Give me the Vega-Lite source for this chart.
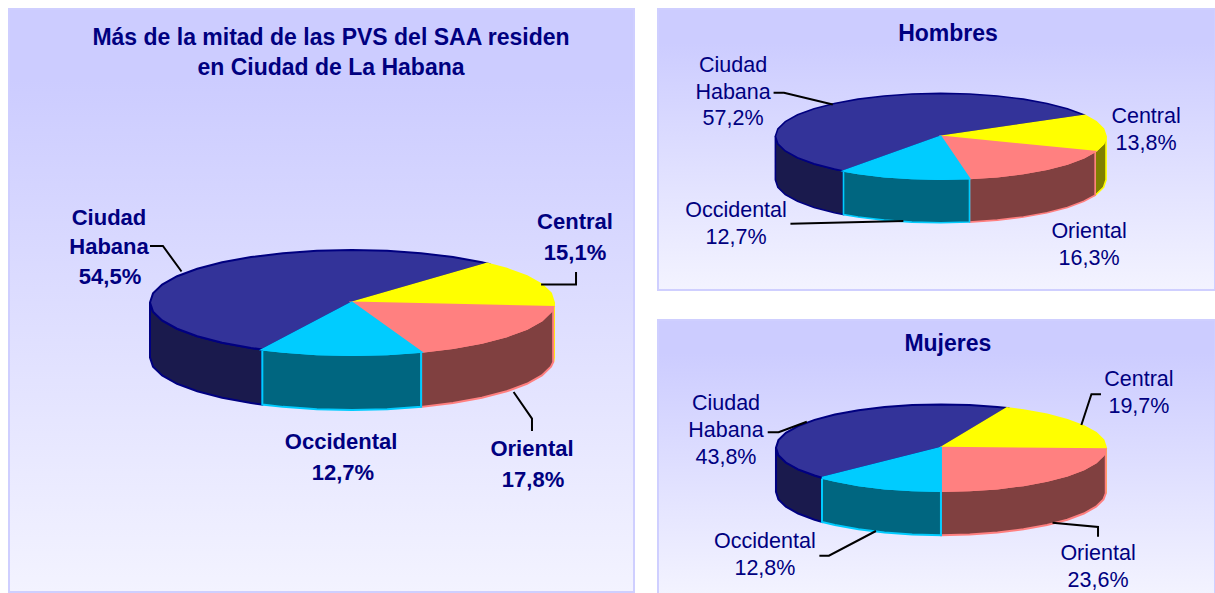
{"$schema":"https://vega.github.io/schema/vega-lite/v6.json","padding":{"left":8,"top":8,"right":0,"bottom":0},"background":"white","spacing":22,"config":{"concat":{"spacing":22},"view":{"stroke":"#CFCFFF","strokeWidth":2,"fill":{"gradient":"linear","x1":0,"y1":0,"x2":0,"y2":1,"stops":[{"offset":0,"color":"#CCCCFF"},{"offset":0.12,"color":"#CCCCFF"},{"offset":1,"color":"#F3F3FF"}]}}},
"hconcat":[
{"width":625,"height":583,"layer":[
{"data":{"values":[
{"parte":"Ciudad lado","x":-0.444,"y":-0.896},{"parte":"Ciudad lado","x":-0.5,"y":-0.866},{"parte":"Ciudad lado","x":-0.643,"y":-0.766},{"parte":"Ciudad lado","x":-0.766,"y":-0.643},{"parte":"Ciudad lado","x":-0.866,"y":-0.5},{"parte":"Ciudad lado","x":-0.94,"y":-0.342},{"parte":"Ciudad lado","x":-0.985,"y":-0.174},{"parte":"Ciudad lado","x":-1,"y":0},{"parte":"Ciudad lado","x":-1,"y":-1.048},{"parte":"Ciudad lado","x":-0.985,"y":-1.222},{"parte":"Ciudad lado","x":-0.94,"y":-1.39},{"parte":"Ciudad lado","x":-0.866,"y":-1.548},{"parte":"Ciudad lado","x":-0.766,"y":-1.691},{"parte":"Ciudad lado","x":-0.643,"y":-1.814},{"parte":"Ciudad lado","x":-0.5,"y":-1.914},{"parte":"Ciudad lado","x":-0.444,"y":-1.944},
{"parte":"Central lado","x":1,"y":0},{"parte":"Central lado","x":0.996,"y":-0.087},{"parte":"Central lado","x":0.996,"y":-1.135},{"parte":"Central lado","x":1,"y":-1.048},
{"parte":"Oriental lado","x":0.996,"y":-0.087},{"parte":"Oriental lado","x":0.985,"y":-0.174},{"parte":"Oriental lado","x":0.94,"y":-0.342},{"parte":"Oriental lado","x":0.866,"y":-0.5},{"parte":"Oriental lado","x":0.766,"y":-0.643},{"parte":"Oriental lado","x":0.643,"y":-0.766},{"parte":"Oriental lado","x":0.5,"y":-0.866},{"parte":"Oriental lado","x":0.342,"y":-0.94},{"parte":"Oriental lado","x":0.342,"y":-1.988},{"parte":"Oriental lado","x":0.5,"y":-1.914},{"parte":"Oriental lado","x":0.643,"y":-1.814},{"parte":"Oriental lado","x":0.766,"y":-1.691},{"parte":"Oriental lado","x":0.866,"y":-1.548},{"parte":"Oriental lado","x":0.94,"y":-1.39},{"parte":"Oriental lado","x":0.985,"y":-1.222},{"parte":"Oriental lado","x":0.996,"y":-1.135},
{"parte":"Occidental lado","x":0.342,"y":-0.94},{"parte":"Occidental lado","x":0.174,"y":-0.985},{"parte":"Occidental lado","x":0,"y":-1},{"parte":"Occidental lado","x":-0.174,"y":-0.985},{"parte":"Occidental lado","x":-0.342,"y":-0.94},{"parte":"Occidental lado","x":-0.444,"y":-0.896},{"parte":"Occidental lado","x":-0.444,"y":-1.944},{"parte":"Occidental lado","x":-0.342,"y":-1.988},{"parte":"Occidental lado","x":-0.174,"y":-2.033},{"parte":"Occidental lado","x":0,"y":-2.048},{"parte":"Occidental lado","x":0.174,"y":-2.033},{"parte":"Occidental lado","x":0.342,"y":-1.988},
{"parte":"Ciudad","x":0,"y":0},{"parte":"Ciudad","x":0.669,"y":0.743},{"parte":"Ciudad","x":0.643,"y":0.766},{"parte":"Ciudad","x":0.5,"y":0.866},{"parte":"Ciudad","x":0.342,"y":0.94},{"parte":"Ciudad","x":0.174,"y":0.985},{"parte":"Ciudad","x":0,"y":1},{"parte":"Ciudad","x":-0.174,"y":0.985},{"parte":"Ciudad","x":-0.342,"y":0.94},{"parte":"Ciudad","x":-0.5,"y":0.866},{"parte":"Ciudad","x":-0.643,"y":0.766},{"parte":"Ciudad","x":-0.766,"y":0.643},{"parte":"Ciudad","x":-0.866,"y":0.5},{"parte":"Ciudad","x":-0.94,"y":0.342},{"parte":"Ciudad","x":-0.985,"y":0.174},{"parte":"Ciudad","x":-1,"y":0},{"parte":"Ciudad","x":-0.985,"y":-0.174},{"parte":"Ciudad","x":-0.94,"y":-0.342},{"parte":"Ciudad","x":-0.866,"y":-0.5},{"parte":"Ciudad","x":-0.766,"y":-0.643},{"parte":"Ciudad","x":-0.643,"y":-0.766},{"parte":"Ciudad","x":-0.5,"y":-0.866},{"parte":"Ciudad","x":-0.444,"y":-0.896},
{"parte":"Central","x":0,"y":0},{"parte":"Central","x":0.669,"y":0.743},{"parte":"Central","x":0.766,"y":0.643},{"parte":"Central","x":0.866,"y":0.5},{"parte":"Central","x":0.94,"y":0.342},{"parte":"Central","x":0.985,"y":0.174},{"parte":"Central","x":1,"y":0},{"parte":"Central","x":0.996,"y":-0.087},
{"parte":"Oriental","x":0,"y":0},{"parte":"Oriental","x":0.996,"y":-0.087},{"parte":"Oriental","x":0.985,"y":-0.174},{"parte":"Oriental","x":0.94,"y":-0.342},{"parte":"Oriental","x":0.866,"y":-0.5},{"parte":"Oriental","x":0.766,"y":-0.643},{"parte":"Oriental","x":0.643,"y":-0.766},{"parte":"Oriental","x":0.5,"y":-0.866},{"parte":"Oriental","x":0.342,"y":-0.94},
{"parte":"Occidental","x":0,"y":0},{"parte":"Occidental","x":0.342,"y":-0.94},{"parte":"Occidental","x":0.174,"y":-0.985},{"parte":"Occidental","x":0,"y":-1},{"parte":"Occidental","x":-0.174,"y":-0.985},{"parte":"Occidental","x":-0.342,"y":-0.94},{"parte":"Occidental","x":-0.444,"y":-0.896}
]},
"mark":{"type":"line","filled":true,"interpolate":"linear-closed","strokeWidth":2},
"encoding":{"x":{"field":"x","type":"quantitative","axis":null,"scale":{"domain":[-1.698,1.396],"nice":false,"zero":false}},"y":{"field":"y","type":"quantitative","axis":null,"scale":{"domain":[-5.514,5.59],"nice":false,"zero":false}},"order":{"value":null},"detail":{"field":"parte"},
"fill":{"field":"parte","type":"nominal","legend":null,"scale":{"domain":["Ciudad","Central","Oriental","Occidental","Ciudad lado","Central lado","Oriental lado","Occidental lado"],"range":["#333399","#FFFF00","#FF8080","#00CCFF","#1A1A4D","#808000","#804040","#006680"]}},
"stroke":{"field":"parte","type":"nominal","legend":null,"scale":{"domain":["Ciudad","Central","Oriental","Occidental","Ciudad lado","Central lado","Oriental lado","Occidental lado"],"range":["#000080","#FFFF00","#FF8080","#00CCFF","#000080","#FFFF00","#FF8080","#00CCFF"]}}}},
{"data":{"values":[
{"guia":"Ciudad","x":-1.0,"y":1.076},{"guia":"Ciudad","x":-0.936,"y":1.076},{"guia":"Ciudad","x":-0.844,"y":0.59},
{"guia":"Central","x":0.936,"y":0.345},{"guia":"Central","x":1.109,"y":0.345},{"guia":"Central","x":1.109,"y":0.581},
{"guia":"Oriental","x":0.8,"y":-1.705},{"guia":"Oriental","x":0.891,"y":-2.213},{"guia":"Oriental","x":0.891,"y":-2.448}
]},"mark":{"type":"line","color":"black","strokeWidth":2},"encoding":{"x":{"field":"x","type":"quantitative"},"y":{"field":"y","type":"quantitative"},"order":{"value":null},"detail":{"field":"guia"}}},
{"data":{"values":[
{"t":"Ciudad","x":-1.203,"y":1.61},{"t":"Habana","x":-1.203,"y":1.057},{"t":"54,5%","x":-1.198,"y":0.486},
{"t":"Central","x":1.104,"y":1.533},{"t":"15,1%","x":1.104,"y":0.943},
{"t":"Occidental","x":-0.054,"y":-2.657},{"t":"12,7%","x":-0.045,"y":-3.248},
{"t":"Oriental","x":0.891,"y":-2.79},{"t":"17,8%","x":0.896,"y":-3.381}
]},"mark":{"type":"text","font":"Liberation Sans","fontWeight":"bold","fontSize":22,"color":"#000080","align":"center","baseline":"middle"},"encoding":{"x":{"field":"x","type":"quantitative"},"y":{"field":"y","type":"quantitative"},"text":{"field":"t"}}},
{"data":{"values":[
{"t":"Más de la mitad de las PVS del SAA residen","x":-0.104,"y":5.038},{"t":"en Ciudad de La Habana","x":-0.104,"y":4.467}
]},"mark":{"type":"text","font":"Liberation Sans","fontWeight":"bold","fontSize":23,"color":"#000080","align":"center","baseline":"middle"},"encoding":{"x":{"field":"x","type":"quantitative"},"y":{"field":"y","type":"quantitative"},"text":{"field":"t"}}}
]},
{"spacing":28,"vconcat":[
{"width":557,"height":281,"layer":[
{"data":{"values":[
{"parte":"Ciudad lado","x":-0.588,"y":-0.809},{"parte":"Ciudad lado","x":-0.643,"y":-0.766},{"parte":"Ciudad lado","x":-0.766,"y":-0.643},{"parte":"Ciudad lado","x":-0.866,"y":-0.5},{"parte":"Ciudad lado","x":-0.94,"y":-0.342},{"parte":"Ciudad lado","x":-0.985,"y":-0.174},{"parte":"Ciudad lado","x":-1,"y":0},{"parte":"Ciudad lado","x":-1,"y":-1.015},{"parte":"Ciudad lado","x":-0.985,"y":-1.189},{"parte":"Ciudad lado","x":-0.94,"y":-1.357},{"parte":"Ciudad lado","x":-0.866,"y":-1.515},{"parte":"Ciudad lado","x":-0.766,"y":-1.658},{"parte":"Ciudad lado","x":-0.643,"y":-1.781},{"parte":"Ciudad lado","x":-0.588,"y":-1.824},
{"parte":"Central lado","x":1,"y":0},{"parte":"Central lado","x":0.985,"y":-0.174},{"parte":"Central lado","x":0.94,"y":-0.342},{"parte":"Central lado","x":0.934,"y":-0.358},{"parte":"Central lado","x":0.934,"y":-1.373},{"parte":"Central lado","x":0.94,"y":-1.357},{"parte":"Central lado","x":0.985,"y":-1.189},{"parte":"Central lado","x":1,"y":-1.015},
{"parte":"Oriental lado","x":0.934,"y":-0.358},{"parte":"Oriental lado","x":0.866,"y":-0.5},{"parte":"Oriental lado","x":0.766,"y":-0.643},{"parte":"Oriental lado","x":0.643,"y":-0.766},{"parte":"Oriental lado","x":0.5,"y":-0.866},{"parte":"Oriental lado","x":0.342,"y":-0.94},{"parte":"Oriental lado","x":0.174,"y":-0.985},{"parte":"Oriental lado","x":0.174,"y":-2},{"parte":"Oriental lado","x":0.342,"y":-1.955},{"parte":"Oriental lado","x":0.5,"y":-1.881},{"parte":"Oriental lado","x":0.643,"y":-1.781},{"parte":"Oriental lado","x":0.766,"y":-1.658},{"parte":"Oriental lado","x":0.866,"y":-1.515},{"parte":"Oriental lado","x":0.934,"y":-1.373},
{"parte":"Occidental lado","x":0.174,"y":-0.985},{"parte":"Occidental lado","x":0,"y":-1},{"parte":"Occidental lado","x":-0.174,"y":-0.985},{"parte":"Occidental lado","x":-0.342,"y":-0.94},{"parte":"Occidental lado","x":-0.5,"y":-0.866},{"parte":"Occidental lado","x":-0.588,"y":-0.809},{"parte":"Occidental lado","x":-0.588,"y":-1.824},{"parte":"Occidental lado","x":-0.5,"y":-1.881},{"parte":"Occidental lado","x":-0.342,"y":-1.955},{"parte":"Occidental lado","x":-0.174,"y":-2},{"parte":"Occidental lado","x":0,"y":-2.015},{"parte":"Occidental lado","x":0.174,"y":-2},
{"parte":"Ciudad","x":0,"y":0},{"parte":"Ciudad","x":0.873,"y":0.488},{"parte":"Ciudad","x":0.766,"y":0.643},{"parte":"Ciudad","x":0.643,"y":0.766},{"parte":"Ciudad","x":0.5,"y":0.866},{"parte":"Ciudad","x":0.342,"y":0.94},{"parte":"Ciudad","x":0.174,"y":0.985},{"parte":"Ciudad","x":0,"y":1},{"parte":"Ciudad","x":-0.174,"y":0.985},{"parte":"Ciudad","x":-0.342,"y":0.94},{"parte":"Ciudad","x":-0.5,"y":0.866},{"parte":"Ciudad","x":-0.643,"y":0.766},{"parte":"Ciudad","x":-0.766,"y":0.643},{"parte":"Ciudad","x":-0.866,"y":0.5},{"parte":"Ciudad","x":-0.94,"y":0.342},{"parte":"Ciudad","x":-0.985,"y":0.174},{"parte":"Ciudad","x":-1,"y":0},{"parte":"Ciudad","x":-0.985,"y":-0.174},{"parte":"Ciudad","x":-0.94,"y":-0.342},{"parte":"Ciudad","x":-0.866,"y":-0.5},{"parte":"Ciudad","x":-0.766,"y":-0.643},{"parte":"Ciudad","x":-0.643,"y":-0.766},{"parte":"Ciudad","x":-0.588,"y":-0.809},
{"parte":"Central","x":0,"y":0},{"parte":"Central","x":0.873,"y":0.488},{"parte":"Central","x":0.94,"y":0.342},{"parte":"Central","x":0.985,"y":0.174},{"parte":"Central","x":1,"y":0},{"parte":"Central","x":0.985,"y":-0.174},{"parte":"Central","x":0.94,"y":-0.342},{"parte":"Central","x":0.934,"y":-0.358},
{"parte":"Oriental","x":0,"y":0},{"parte":"Oriental","x":0.934,"y":-0.358},{"parte":"Oriental","x":0.866,"y":-0.5},{"parte":"Oriental","x":0.766,"y":-0.643},{"parte":"Oriental","x":0.643,"y":-0.766},{"parte":"Oriental","x":0.5,"y":-0.866},{"parte":"Oriental","x":0.342,"y":-0.94},{"parte":"Oriental","x":0.174,"y":-0.985},
{"parte":"Occidental","x":0,"y":0},{"parte":"Occidental","x":0.174,"y":-0.985},{"parte":"Occidental","x":0,"y":-1},{"parte":"Occidental","x":-0.174,"y":-0.985},{"parte":"Occidental","x":-0.342,"y":-0.94},{"parte":"Occidental","x":-0.5,"y":-0.866},{"parte":"Occidental","x":-0.588,"y":-0.809}
]},
"mark":{"type":"line","filled":true,"interpolate":"linear-closed","strokeWidth":1.6},
"encoding":{"x":{"field":"x","type":"quantitative","axis":null,"scale":{"domain":[-1.71,1.659],"nice":false,"zero":false}},"y":{"field":"y","type":"quantitative","axis":null,"scale":{"domain":[-3.583,2.967],"nice":false,"zero":false}},"order":{"value":null},"detail":{"field":"parte"},
"fill":{"field":"parte","type":"nominal","legend":null,"scale":{"domain":["Ciudad","Central","Oriental","Occidental","Ciudad lado","Central lado","Oriental lado","Occidental lado"],"range":["#333399","#FFFF00","#FF8080","#00CCFF","#1A1A4D","#808000","#804040","#006680"]}},
"stroke":{"field":"parte","type":"nominal","legend":null,"scale":{"domain":["Ciudad","Central","Oriental","Occidental","Ciudad lado","Central lado","Oriental lado","Occidental lado"],"range":["#333399","#FFFF00","#FF8080","#00CCFF","#333399","#FFFF00","#FF8080","#00CCFF"]}}}},
{"data":{"values":[
{"guia":"Ciudad","x":-1.011,"y":1.016},{"guia":"Ciudad","x":-0.948,"y":1.016},{"guia":"Ciudad","x":-0.653,"y":0.739},
{"guia":"Occidental","x":-0.909,"y":-2.04},{"guia":"Occidental","x":-0.226,"y":-1.974}
]},"mark":{"type":"line","color":"black","strokeWidth":2},"encoding":{"x":{"field":"x","type":"quantitative"},"y":{"field":"y","type":"quantitative"},"order":{"value":null},"detail":{"field":"guia"}}},
{"data":{"values":[
{"t":"Ciudad","x":-1.256,"y":1.639},{"t":"Habana","x":-1.256,"y":1.009},{"t":"57,2%","x":-1.256,"y":0.403},
{"t":"Central","x":1.242,"y":0.45},{"t":"13,8%","x":1.242,"y":-0.179},
{"t":"Oriental","x":0.897,"y":-2.231},{"t":"16,3%","x":0.897,"y":-2.86},
{"t":"Occidental","x":-1.238,"y":-1.741},{"t":"12,7%","x":-1.238,"y":-2.371}
]},"mark":{"type":"text","font":"Liberation Sans","fontSize":21.5,"color":"#000080","align":"center","baseline":"middle"},"encoding":{"x":{"field":"x","type":"quantitative"},"y":{"field":"y","type":"quantitative"},"text":{"field":"t"}}},
{"data":{"values":[{"t":"Hombres","x":0.044,"y":2.385}]},"mark":{"type":"text","font":"Liberation Sans","fontWeight":"bold","fontSize":23,"color":"#000080","align":"center","baseline":"middle"},"encoding":{"x":{"field":"x","type":"quantitative"},"y":{"field":"y","type":"quantitative"},"text":{"field":"t"}}}
]},
{"width":557,"height":274,"layer":[
{"data":{"values":[
{"parte":"Ciudad lado","x":-0.721,"y":-0.693},{"parte":"Ciudad lado","x":-0.766,"y":-0.643},{"parte":"Ciudad lado","x":-0.866,"y":-0.5},{"parte":"Ciudad lado","x":-0.94,"y":-0.342},{"parte":"Ciudad lado","x":-0.985,"y":-0.174},{"parte":"Ciudad lado","x":-1,"y":0},{"parte":"Ciudad lado","x":-1,"y":-1.02},{"parte":"Ciudad lado","x":-0.985,"y":-1.194},{"parte":"Ciudad lado","x":-0.94,"y":-1.362},{"parte":"Ciudad lado","x":-0.866,"y":-1.52},{"parte":"Ciudad lado","x":-0.766,"y":-1.663},{"parte":"Ciudad lado","x":-0.721,"y":-1.713},
{"parte":"Central lado","x":1,"y":0},{"parte":"Central lado","x":0.999,"y":-0.035},{"parte":"Central lado","x":0.999,"y":-1.055},{"parte":"Central lado","x":1,"y":-1.02},
{"parte":"Oriental lado","x":0.999,"y":-0.035},{"parte":"Oriental lado","x":0.985,"y":-0.174},{"parte":"Oriental lado","x":0.94,"y":-0.342},{"parte":"Oriental lado","x":0.866,"y":-0.5},{"parte":"Oriental lado","x":0.766,"y":-0.643},{"parte":"Oriental lado","x":0.643,"y":-0.766},{"parte":"Oriental lado","x":0.5,"y":-0.866},{"parte":"Oriental lado","x":0.342,"y":-0.94},{"parte":"Oriental lado","x":0.174,"y":-0.985},{"parte":"Oriental lado","x":0,"y":-1},{"parte":"Oriental lado","x":0,"y":-2.02},{"parte":"Oriental lado","x":0.174,"y":-2.005},{"parte":"Oriental lado","x":0.342,"y":-1.96},{"parte":"Oriental lado","x":0.5,"y":-1.886},{"parte":"Oriental lado","x":0.643,"y":-1.786},{"parte":"Oriental lado","x":0.766,"y":-1.663},{"parte":"Oriental lado","x":0.866,"y":-1.52},{"parte":"Oriental lado","x":0.94,"y":-1.362},{"parte":"Oriental lado","x":0.985,"y":-1.194},{"parte":"Oriental lado","x":0.999,"y":-1.055},
{"parte":"Occidental lado","x":0,"y":-1},{"parte":"Occidental lado","x":-0.174,"y":-0.985},{"parte":"Occidental lado","x":-0.342,"y":-0.94},{"parte":"Occidental lado","x":-0.5,"y":-0.866},{"parte":"Occidental lado","x":-0.643,"y":-0.766},{"parte":"Occidental lado","x":-0.721,"y":-0.693},{"parte":"Occidental lado","x":-0.721,"y":-1.713},{"parte":"Occidental lado","x":-0.643,"y":-1.786},{"parte":"Occidental lado","x":-0.5,"y":-1.886},{"parte":"Occidental lado","x":-0.342,"y":-1.96},{"parte":"Occidental lado","x":-0.174,"y":-2.005},{"parte":"Occidental lado","x":0,"y":-2.02},
{"parte":"Ciudad","x":0,"y":0},{"parte":"Ciudad","x":0.4,"y":0.916},{"parte":"Ciudad","x":0.342,"y":0.94},{"parte":"Ciudad","x":0.174,"y":0.985},{"parte":"Ciudad","x":0,"y":1},{"parte":"Ciudad","x":-0.174,"y":0.985},{"parte":"Ciudad","x":-0.342,"y":0.94},{"parte":"Ciudad","x":-0.5,"y":0.866},{"parte":"Ciudad","x":-0.643,"y":0.766},{"parte":"Ciudad","x":-0.766,"y":0.643},{"parte":"Ciudad","x":-0.866,"y":0.5},{"parte":"Ciudad","x":-0.94,"y":0.342},{"parte":"Ciudad","x":-0.985,"y":0.174},{"parte":"Ciudad","x":-1,"y":0},{"parte":"Ciudad","x":-0.985,"y":-0.174},{"parte":"Ciudad","x":-0.94,"y":-0.342},{"parte":"Ciudad","x":-0.866,"y":-0.5},{"parte":"Ciudad","x":-0.766,"y":-0.643},{"parte":"Ciudad","x":-0.721,"y":-0.693},
{"parte":"Central","x":0,"y":0},{"parte":"Central","x":0.4,"y":0.916},{"parte":"Central","x":0.5,"y":0.866},{"parte":"Central","x":0.643,"y":0.766},{"parte":"Central","x":0.766,"y":0.643},{"parte":"Central","x":0.866,"y":0.5},{"parte":"Central","x":0.94,"y":0.342},{"parte":"Central","x":0.985,"y":0.174},{"parte":"Central","x":1,"y":0},{"parte":"Central","x":0.999,"y":-0.035},
{"parte":"Oriental","x":0,"y":0},{"parte":"Oriental","x":0.999,"y":-0.035},{"parte":"Oriental","x":0.985,"y":-0.174},{"parte":"Oriental","x":0.94,"y":-0.342},{"parte":"Oriental","x":0.866,"y":-0.5},{"parte":"Oriental","x":0.766,"y":-0.643},{"parte":"Oriental","x":0.643,"y":-0.766},{"parte":"Oriental","x":0.5,"y":-0.866},{"parte":"Oriental","x":0.342,"y":-0.94},{"parte":"Oriental","x":0.174,"y":-0.985},{"parte":"Oriental","x":0,"y":-1},
{"parte":"Occidental","x":0,"y":0},{"parte":"Occidental","x":0,"y":-1},{"parte":"Occidental","x":-0.174,"y":-0.985},{"parte":"Occidental","x":-0.342,"y":-0.94},{"parte":"Occidental","x":-0.5,"y":-0.866},{"parte":"Occidental","x":-0.643,"y":-0.766},{"parte":"Occidental","x":-0.721,"y":-0.693}
]},
"mark":{"type":"line","filled":true,"interpolate":"linear-closed","strokeWidth":2},
"encoding":{"x":{"field":"x","type":"quantitative","axis":null,"scale":{"domain":[-1.715,1.661],"nice":false,"zero":false}},"y":{"field":"y","type":"quantitative","axis":null,"scale":{"domain":[-3.379,2.949],"nice":false,"zero":false}},"order":{"value":null},"detail":{"field":"parte"},
"fill":{"field":"parte","type":"nominal","legend":null,"scale":{"domain":["Ciudad","Central","Oriental","Occidental","Ciudad lado","Central lado","Oriental lado","Occidental lado"],"range":["#333399","#FFFF00","#FF8080","#00CCFF","#1A1A4D","#808000","#804040","#006680"]}},
"stroke":{"field":"parte","type":"nominal","legend":null,"scale":{"domain":["Ciudad","Central","Oriental","Occidental","Ciudad lado","Central lado","Oriental lado","Occidental lado"],"range":["#000080","#FFFF00","#FF8080","#00CCFF","#000080","#FFFF00","#FF8080","#00CCFF"]}}}},
{"data":{"values":[
{"guia":"Ciudad","x":-1.05,"y":0.356},{"guia":"Ciudad","x":-0.984,"y":0.356},{"guia":"Ciudad","x":-0.813,"y":0.6},
{"guia":"Central","x":0.851,"y":0.524},{"guia":"Central","x":0.912,"y":1.233},{"guia":"Central","x":0.97,"y":1.233},
{"guia":"Oriental","x":0.676,"y":-1.732},{"guia":"Oriental","x":0.952,"y":-1.831},{"guia":"Oriental","x":0.952,"y":-2.055},
{"guia":"Occidental","x":-0.394,"y":-1.924},{"guia":"Occidental","x":-0.679,"y":-2.494},{"guia":"Occidental","x":-0.737,"y":-2.494}
]},"mark":{"type":"line","color":"black","strokeWidth":2},"encoding":{"x":{"field":"x","type":"quantitative"},"y":{"field":"y","type":"quantitative"},"order":{"value":null},"detail":{"field":"guia"}}},
{"data":{"values":[
{"t":"Ciudad","x":-1.303,"y":1.009},{"t":"Habana","x":-1.303,"y":0.386},{"t":"43,8%","x":-1.303,"y":-0.238},
{"t":"Central","x":1.2,"y":1.564},{"t":"19,7%","x":1.2,"y":0.94},
{"t":"Oriental","x":0.952,"y":-2.455},{"t":"23,6%","x":0.952,"y":-3.079},
{"t":"Occidental","x":-1.067,"y":-2.178},{"t":"12,8%","x":-1.067,"y":-2.801}
]},"mark":{"type":"text","font":"Liberation Sans","fontSize":21.5,"color":"#000080","align":"center","baseline":"middle"},"encoding":{"x":{"field":"x","type":"quantitative"},"y":{"field":"y","type":"quantitative"},"text":{"field":"t"}}},
{"data":{"values":[{"t":"Mujeres","x":0.042,"y":2.395}]},"mark":{"type":"text","font":"Liberation Sans","fontWeight":"bold","fontSize":23,"color":"#000080","align":"center","baseline":"middle"},"encoding":{"x":{"field":"x","type":"quantitative"},"y":{"field":"y","type":"quantitative"},"text":{"field":"t"}}}
]}
]}
]}
